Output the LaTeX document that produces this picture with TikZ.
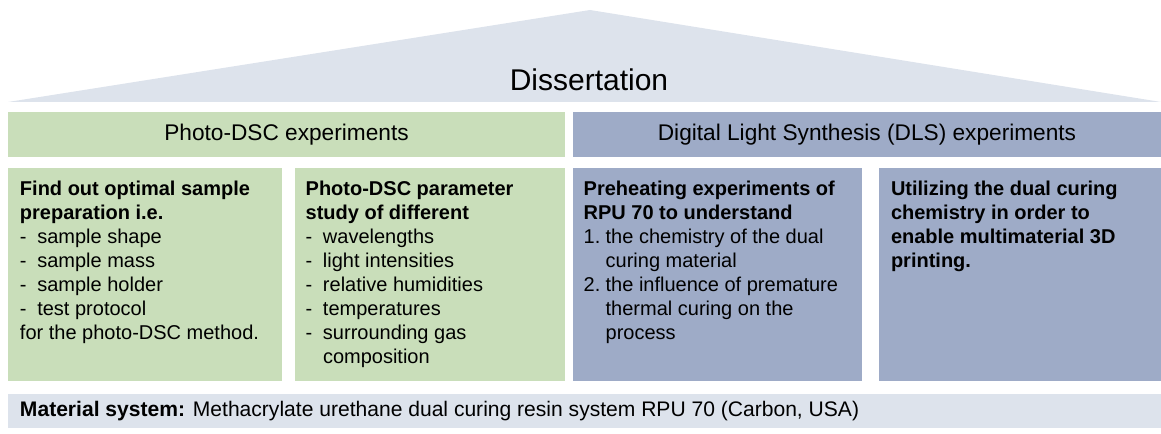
\documentclass[tikz,border=0pt]{standalone}
\usepackage{fontspec}
\setmainfont{Liberation Sans}
\usetikzlibrary{positioning,fit}

\definecolor{dscgreen}{HTML}{C9DEBA}
\definecolor{dlsblue}{HTML}{9EABC7}
\definecolor{roofgray}{HTML}{DDE3EC}
\newcommand{\dashitem}{\makebox[13pt][l]{-}}
\newcommand{\numitem}[1]{\makebox[16.5pt][l]{#1.}}

\begin{document}
\begin{tikzpicture}[x=0.75pt,y=-0.75pt,
  panel/.style={inner sep=0pt, fill=#1},
  boxtext/.style={align=left, inner sep=0pt, font=\fontsize{15}{18}\selectfont},
  headtext/.style={inner sep=0pt, font=\fontsize{17}{20}\selectfont}]
\useasboundingbox (0,0) rectangle (1161,434);
% roof
\fill[roofgray] (8,102) -- (590,10) -- (1161,102) -- cycle;
\node[font=\fontsize{22.5}{26}\selectfont] (diss) at (589,80) {Dissertation};
% headers
\node[panel=dscgreen, fit={(8,112)(565,157)}] (hdsc) {};
\node[panel=dlsblue, fit={(573,112)(1161,157)}] (hdls) {};
\node[headtext] (hdsctext) at (hdsc) {Photo-DSC experiments};
\node[headtext] (hdlstext) at (hdls) {Digital Light Synthesis (DLS) experiments};
% boxes
\node[panel=dscgreen, fit={(8,168)(282,381)}] (b1) {};
\node[panel=dscgreen, fit={(295,168)(565,381)}] (b2) {};
\node[panel=dlsblue, fit={(573,168)(862,381)}] (b3) {};
\node[panel=dlsblue, fit={(879,168)(1161,381)}] (b4) {};
\node[boxtext, below right=10pt and 9pt of b1.north west] (t1) {%
  \textbf{Find out optimal sample}\\
  \textbf{preparation i.e.}\\
  \dashitem sample shape\\
  \dashitem sample mass\\
  \dashitem sample holder\\
  \dashitem test protocol\\
  for the photo-DSC method.};
\node[boxtext, below right=10pt and 8pt of b2.north west] (t2) {%
  \textbf{Photo-DSC parameter}\\
  \textbf{study of different}\\
  \dashitem wavelengths\\
  \dashitem light intensities\\
  \dashitem relative humidities\\
  \dashitem temperatures\\
  \dashitem surrounding gas\\
  \hspace*{13pt}composition};
\node[boxtext, below right=10pt and 8pt of b3.north west] (t3) {%
  \textbf{Preheating experiments of}\\
  \textbf{RPU 70 to understand}\\
  \numitem{1}the chemistry of the dual\\
  \hspace*{16.5pt}curing material\\
  \numitem{2}the influence of premature\\
  \hspace*{16.5pt}thermal curing on the\\
  \hspace*{16.5pt}process};
\node[boxtext, below right=10pt and 9pt of b4.north west] (t4) {%
  \textbf{Utilizing the dual curing}\\
  \textbf{chemistry in order to}\\
  \textbf{enable multimaterial 3D}\\
  \textbf{printing.}};
% base
\node[panel=roofgray, fit={(8,394)(1161,428)}] (base) {};
\node[boxtext, font=\fontsize{15.8}{18}\selectfont, right=9pt of base.west] (basetext) {%
  \textbf{Material system:} Methacrylate urethane dual curing resin system RPU 70 (Carbon, USA)};
\end{tikzpicture}
\end{document}
